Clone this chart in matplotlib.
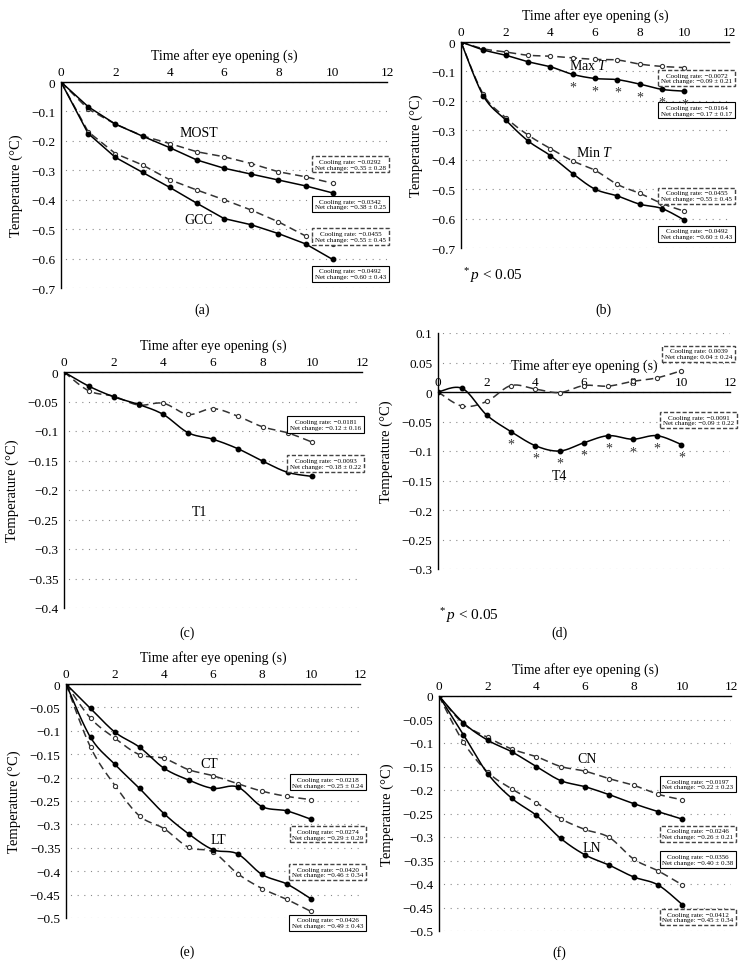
import numpy as np
import matplotlib
matplotlib.use("Agg")
import matplotlib.pyplot as plt
from matplotlib.ticker import FuncFormatter

plt.rcParams["font.family"] = ["Liberation Serif", "DejaVu Serif"]
plt.rcParams["mathtext.fontset"] = "custom"
plt.rcParams["mathtext.rm"] = "Liberation Serif"
plt.rcParams["mathtext.it"] = "Liberation Serif:italic"

# ---- data ----
time_s = np.arange(0, 11)

most_solid = [0, -0.084, -0.143, -0.184, -0.223, -0.265, -0.293, -0.313, -0.333, -0.353, -0.377]
most_dash = [0, -0.092, -0.143, -0.183, -0.209, -0.237, -0.254, -0.277, -0.305, -0.322, -0.344]
gcc_solid = [0, -0.175, -0.256, -0.307, -0.358, -0.412, -0.464, -0.485, -0.515, -0.550, -0.603]
gcc_dash = [0, -0.169, -0.243, -0.282, -0.332, -0.367, -0.400, -0.435, -0.475, -0.523, -0.550]

maxt_solid = [0, -0.027, -0.045, -0.067, -0.084, -0.110, -0.124, -0.128, -0.143, -0.161, -0.167]
maxt_dash = [0, -0.023, -0.034, -0.045, -0.048, -0.054, -0.059, -0.061, -0.075, -0.083, -0.087]
mint_solid = [0, -0.183, -0.265, -0.336, -0.386, -0.447, -0.500, -0.523, -0.551, -0.566, -0.605]
mint_dash = [0, -0.178, -0.257, -0.316, -0.362, -0.404, -0.436, -0.484, -0.514, -0.549, -0.575]

t1_solid = [0, -0.024, -0.042, -0.055, -0.072, -0.103, -0.114, -0.130, -0.151, -0.170, -0.177]
t1_dash = [0, -0.032, -0.041, -0.056, -0.053, -0.072, -0.062, -0.075, -0.093, -0.103, -0.119]

t4_solid = [0, 0.006, -0.039, -0.067, -0.091, -0.100, -0.086, -0.074, -0.080, -0.074, -0.089]
t4_dash = [0, -0.024, -0.016, 0.011, 0.005, -0.001, 0.011, 0.010, 0.018, 0.024, 0.036]

ct_solid = [0, -0.052, -0.103, -0.135, -0.180, -0.205, -0.223, -0.220, -0.262, -0.271, -0.289]
ct_dash = [0, -0.073, -0.116, -0.151, -0.159, -0.183, -0.196, -0.213, -0.229, -0.240, -0.247]
lt_solid = [0, -0.114, -0.172, -0.223, -0.277, -0.320, -0.354, -0.363, -0.407, -0.427, -0.459]
lt_dash = [0, -0.135, -0.217, -0.282, -0.309, -0.349, -0.359, -0.405, -0.437, -0.460, -0.486]

cn_solid = [0, -0.057, -0.094, -0.119, -0.150, -0.180, -0.193, -0.210, -0.229, -0.246, -0.262]
cn_dash = [0, -0.059, -0.088, -0.113, -0.129, -0.150, -0.160, -0.176, -0.190, -0.209, -0.221]
ln_solid = [0, -0.082, -0.165, -0.218, -0.254, -0.303, -0.338, -0.360, -0.385, -0.402, -0.444]
ln_dash = [0, -0.098, -0.162, -0.198, -0.227, -0.261, -0.284, -0.301, -0.347, -0.372, -0.402]

sig_b = [5, 6, 7, 8, 9, 10]
sig_d = [3, 4, 5, 6, 7, 8, 9, 10]

W, H = 745, 979
fig = plt.figure(figsize=(W / 100, H / 100), dpi=100)


def smooth(x, y, n=16):
    # catmull-rom, like the smoothed lines in the spreadsheet chart
    p = np.column_stack([x, y]).astype(float)
    p = np.vstack([p[0], p, p[-1]])
    t = np.linspace(0, 1, n, endpoint=False)[:, None]
    out = []
    for i in range(1, len(p) - 2):
        p0, p1, p2, p3 = p[i - 1], p[i], p[i + 1], p[i + 2]
        out.append(0.5 * ((2 * p1) + (-p0 + p2) * t + (2 * p0 - 5 * p1 + 4 * p2 - p3) * t ** 2
                          + (-p0 + 3 * p1 - 3 * p2 + p3) * t ** 3))
    out.append(p[-2][None, :])
    out = np.vstack(out)
    return out[:, 0], out[:, 1]


def fmt(v, _):
    s = f"{v:.2f}".rstrip("0").rstrip(".")
    if s in ("-0", "0"):
        return "0"
    return s.replace("-", "\u2212")


def make_axes(px, ylim, ystep):
    x0, x1, y0, y1 = px
    ax = fig.add_axes([x0 / W, 1 - y1 / H, (x1 - x0) / W, (y1 - y0) / H])
    ax.set_xlim(0, 12)
    ax.set_ylim(*ylim)
    for s in ["right", "bottom"]:
        ax.spines[s].set_visible(False)
    ax.spines["top"].set_position(("data", 0))
    ax.spines["top"].set_linewidth(1.0)
    ax.spines["left"].set_linewidth(1.0)
    ax.xaxis.set_ticks_position("top")
    ax.xaxis.set_label_position("top")
    ax.set_xticks(range(0, 13, 2))
    ax.set_yticks(np.round(np.arange(ylim[0], ylim[1] + ystep / 2, ystep), 3))
    ax.yaxis.set_major_formatter(FuncFormatter(fmt))
    ax.tick_params(length=0, labelsize=9.5, pad=3)
    ax.tick_params(axis="y", pad=4)
    ax.grid(axis="y", linestyle=(2, (1, 5)), color="#8a8a8a", linewidth=0.8)
    ax.set_xlabel("Time after eye opening (s)", fontsize=10, labelpad=5)
    ax.set_ylabel("Temperature (\u00b0C)", fontsize=10.5, labelpad=6)
    ax.set_axisbelow(True)
    return ax


def series(ax, y, dashed, smoothed=True):
    if smoothed:
        xs, ys = smooth(time_s, y)
    else:
        xs, ys = time_s, np.asarray(y)
    if dashed:
        ax.plot(xs, ys, color="#333333", lw=1.1, ls=(0, (5, 3)), zorder=3)
        ax.plot(time_s, y, ls="none", marker="o", ms=3, mfc="white", mec="#333333", mew=0.8, zorder=4)
    else:
        ax.plot(xs, ys, color="black", lw=1.1, zorder=3)
        ax.plot(time_s, y, ls="none", marker="o", ms=3.2, mfc="black", mec="black", zorder=4)


def box(ax, x, y, rate, change, dashed):
    txt = f"Cooling rate: {rate}\nNet change: {change}"
    props = dict(boxstyle="square,pad=0.4", fc="white",
                 ec="#444444" if dashed else "black",
                 lw=1.0 if dashed else 0.8,
                 ls=(0, (3, 1.5)) if dashed else "-")
    ax.text(x, y, txt, fontsize=5, ha="center", va="center", linespacing=1.15,
            bbox=props, clip_on=False, zorder=6)


def stars(ax, xs, y):
    for xi in xs:
        ax.annotate("*", (xi, y[xi]), xytext=(0, -9), textcoords="offset points",
                    ha="center", va="center", fontsize=10, color="#333333", zorder=7)


def pnote(x, y):
    fig.text(x / W, 1 - y / H, "$^*$$\\it{p}$ < 0.05", fontsize=11, ha="left", va="center")


def plabel(x, y, s):
    fig.text(x / W, 1 - y / H, s, fontsize=10, ha="center", va="center")


# (a)
ax = make_axes((61, 387, 83, 289), (-0.7, 0), 0.1)
series(ax, most_dash, True, False)
series(ax, most_solid, False, False)
series(ax, gcc_dash, True, False)
series(ax, gcc_solid, False, False)
ax.text(5.08, -0.173, "MOST", fontsize=10, ha="center", va="center")
ax.text(5.08, -0.466, "GCC", fontsize=10, ha="center", va="center")
box(ax, 10.65, -0.280, "\u22120.0292", "\u22120.35 \u00b1 0.28", True)
box(ax, 10.65, -0.415, "\u22120.0342", "\u22120.38 \u00b1 0.25", False)
box(ax, 10.65, -0.525, "\u22120.0455", "\u22120.55 \u00b1 0.45", True)
box(ax, 10.65, -0.651, "\u22120.0492", "\u22120.60 \u00b1 0.43", False)
plabel(202, 310, "(a)")

# (b)
ax = make_axes((461, 729, 43, 249), (-0.7, 0), 0.1)
series(ax, maxt_dash, True)
series(ax, maxt_solid, False)
series(ax, mint_dash, True)
series(ax, mint_solid, False)
stars(ax, sig_b, maxt_solid)
ax.text(5.73, -0.078, "Max $\\it{T}$", fontsize=10, ha="center", va="center")
ax.text(5.96, -0.374, "Min $\\it{T}$", fontsize=10, ha="center", va="center")
box(ax, 10.55, -0.122, "\u22120.0072", "\u22120.09 \u00b1 0.21", True)
box(ax, 10.55, -0.232, "\u22120.0164", "\u22120.17 \u00b1 0.17", False)
box(ax, 10.55, -0.522, "\u22120.0455", "\u22120.55 \u00b1 0.45", True)
box(ax, 10.55, -0.651, "\u22120.0492", "\u22120.60 \u00b1 0.43", False)
pnote(462, 276)
plabel(603, 310, "(b)")

# (c)
ax = make_axes((64, 362, 373, 609), (-0.4, 0), 0.05)
series(ax, t1_dash, True)
series(ax, t1_solid, False)
ax.text(5.44, -0.237, "T1", fontsize=10, ha="center", va="center")
box(ax, 10.53, -0.089, "\u22120.0181", "\u22120.12 \u00b1 0.16", False)
box(ax, 10.53, -0.155, "\u22120.0093", "\u22120.18 \u00b1 0.22", True)
plabel(187, 633, "(c)")

# (d)
ax = make_axes((438, 730, 334, 570), (-0.3, 0.1), 0.05)
series(ax, t4_dash, True)
series(ax, t4_solid, False)
stars(ax, sig_d, t4_solid)
ax.text(5.01, -0.141, "T4", fontsize=10, ha="center", va="center")
box(ax, 10.71, 0.065, "0.0039", "0.04 \u00b1 0.24", True)
box(ax, 10.71, -0.0475, "\u22120.0091", "\u22120.09 \u00b1 0.22", True)
pnote(438, 616)
plabel(560, 633, "(d)")

# (e)
ax = make_axes((66, 360, 685, 919), (-0.5, 0), 0.05)
series(ax, ct_dash, True)
series(ax, ct_solid, False)
series(ax, lt_dash, True)
series(ax, lt_solid, False)
ax.text(5.84, -0.169, "CT", fontsize=10, ha="center", va="center")
ax.text(6.2, -0.333, "LT", fontsize=10, ha="center", va="center")
box(ax, 10.69, -0.210, "\u22120.0218", "\u22120.25 \u00b1 0.24", False)
box(ax, 10.69, -0.321, "\u22120.0274", "\u22120.29 \u00b1 0.29", True)
box(ax, 10.69, -0.402, "\u22120.0420", "\u22120.46 \u00b1 0.34", True)
box(ax, 10.69, -0.510, "\u22120.0426", "\u22120.49 \u00b1 0.43", False)
plabel(187, 952, "(e)")

# (f)
ax = make_axes((439, 731, 697, 932), (-0.5, 0), 0.05)
series(ax, cn_dash, True)
series(ax, cn_solid, False)
series(ax, ln_dash, True)
series(ax, ln_solid, False)
ax.text(6.08, -0.132, "CN", fontsize=10, ha="center", va="center")
ax.text(6.29, -0.323, "LN", fontsize=10, ha="center", va="center")
box(ax, 10.64, -0.187, "\u22120.0197", "\u22120.22 \u00b1 0.23", False)
box(ax, 10.64, -0.293, "\u22120.0246", "\u22120.26 \u00b1 0.21", True)
box(ax, 10.64, -0.348, "\u22120.0356", "\u22120.40 \u00b1 0.38", False)
box(ax, 10.64, -0.470, "\u22120.0412", "\u22120.45 \u00b1 0.34", True)
plabel(559, 953, "(f)")

fig.savefig("out.png", dpi=100, facecolor="white")
